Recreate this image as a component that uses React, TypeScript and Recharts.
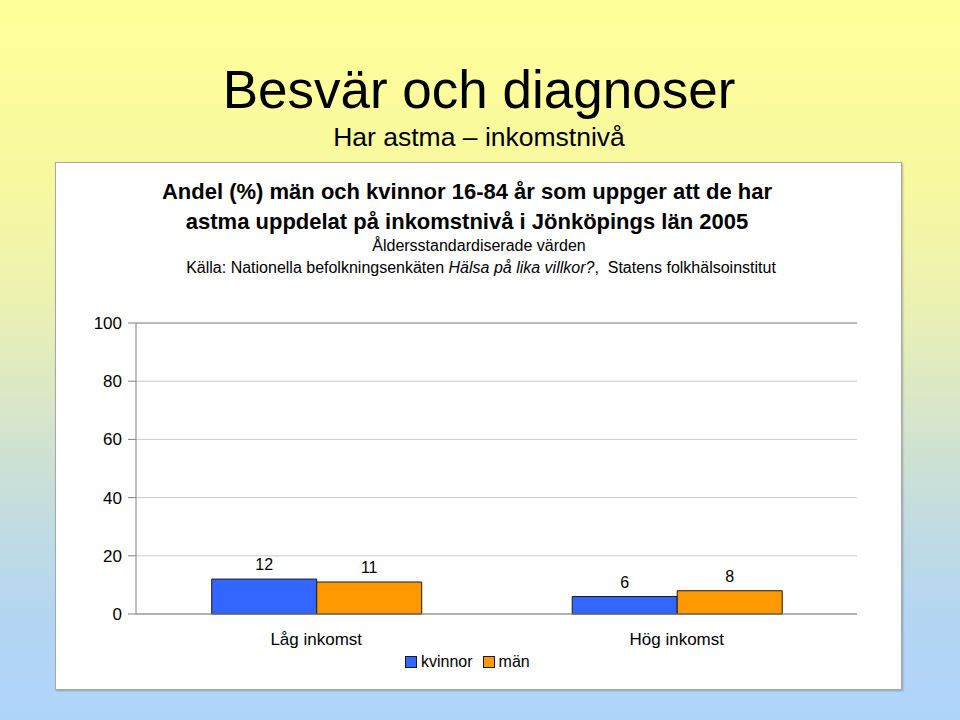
import React from "react";
import { BarChart, Bar, XAxis, YAxis, CartesianGrid, LabelList, ReferenceLine } from "recharts";

const categories = ["Låg inkomst", "Hög inkomst"];
const kvinnor = [12, 6];
const man = [11, 8];
const yTicks = [0, 20, 40, 60, 80, 100];

const data = categories.map((c, i) => ({ name: c, kvinnor: kvinnor[i], man: man[i] }));

const FONT = '"Liberation Sans", Arial, Helvetica, sans-serif';

export default function App() {
  return (
    <div
      style={{
        position: "absolute",
        left: 0,
        top: 0,
        width: 960,
        height: 720,
        overflow: "hidden",
        fontFamily: FONT,
        background:
          "linear-gradient(to bottom, #ffff99 0%, #f8f99f 25%, #eef2b0 40%, #dbe8c6 55%, #c4ddde 70%, #b5d6f2 85%, #afd4fb 100%)",
      }}
    >
      <div
        style={{
          position: "absolute",
          left: 0,
          top: 60,
          width: 958,
          textAlign: "center",
          fontSize: 53,
          lineHeight: "60px",
          color: "#000",
        }}
      >
        Besvär och diagnoser
      </div>
      <div
        style={{
          position: "absolute",
          left: 0,
          top: 121,
          width: 958,
          textAlign: "center",
          fontSize: 26.5,
          lineHeight: "32px",
          color: "#000",
        }}
      >
        Har astma – inkomstnivå
      </div>
      <div
        style={{
          position: "absolute",
          left: 55,
          top: 162,
          width: 845,
          height: 526,
          background: "#ffffff",
          border: "1px solid #a8a8a8",
          boxShadow: "1px 1px 2px rgba(0,0,0,0.25)",
        }}
      />
      <div
        style={{
          position: "absolute",
          left: 0,
          top: 177,
          width: 934,
          textAlign: "center",
          fontSize: 22,
          fontWeight: "bold",
          lineHeight: "30px",
          color: "#000",
        }}
      >
        Andel (%) män och kvinnor 16-84 år som uppger att de har
        <br />
        astma uppdelat på inkomstnivå i Jönköpings län 2005
      </div>
      <div
        style={{
          position: "absolute",
          left: 0,
          top: 236,
          width: 958,
          textAlign: "center",
          fontSize: 16,
          lineHeight: "20px",
          color: "#000",
        }}
      >
        Åldersstandardiserade värden
      </div>
      <div
        style={{
          position: "absolute",
          left: 0,
          top: 258,
          width: 962,
          textAlign: "center",
          fontSize: 16,
          lineHeight: "20px",
          color: "#000",
        }}
      >
        Källa: Nationella befolkningsenkäten <i>Hälsa på lika villkor?</i>,&nbsp; Statens folkhälsoinstitut
      </div>

      <div style={{ position: "absolute", left: 0, top: 0 }}>
        <BarChart
          width={960}
          height={720}
          data={data}
          margin={{ top: 323, right: 103, bottom: 66, left: 0 }}
          barCategoryGap="21%"
          barGap={0}
        >
          <CartesianGrid horizontal vertical={false} stroke="#cccccc" />
          <XAxis
            dataKey="name"
            height={40}
            tickSize={0}
            tickMargin={19}
            axisLine={{ stroke: "#808080" }}
            tick={{ fill: "#000", fontSize: 17, fontFamily: FONT }}
          />
          <YAxis
            width={136}
            domain={[0, 100]}
            ticks={yTicks}
            interval={0}
            tickSize={8}
            tickMargin={6}
            axisLine={{ stroke: "#808080" }}
            tickLine={{ stroke: "#808080" }}
            tick={{ fill: "#000", fontSize: 17, fontFamily: FONT }}
          />
          <YAxis
            yAxisId="right"
            orientation="right"
            width={0}
            domain={[0, 100]}
            tick={false}
            tickLine={false}
            axisLine={{ stroke: "#909090" }}
          />
          <ReferenceLine y={100} stroke="#909090" />
          <Bar dataKey="kvinnor" fill="#3366ff" stroke="#1a1a1a" strokeWidth={1} isAnimationActive={false}>
            <LabelList dataKey="kvinnor" position="top" offset={9} fill="#000" fontSize={16} fontFamily={FONT} />
          </Bar>
          <Bar dataKey="man" fill="#ff9900" stroke="#1a1a1a" strokeWidth={1} isAnimationActive={false}>
            <LabelList dataKey="man" position="top" offset={9} fill="#000" fontSize={16} fontFamily={FONT} />
          </Bar>
        </BarChart>
      </div>

      <div
        style={{
          position: "absolute",
          left: 405,
          top: 652,
          display: "flex",
          alignItems: "center",
          fontSize: 16,
          lineHeight: "20px",
          color: "#000",
        }}
      >
        <span style={{ width: 10, height: 10, background: "#3366ff", border: "1px solid #1a1a1a", display: "inline-block", marginRight: 4 }} />
        <span style={{ marginRight: 10 }}>kvinnor</span>
        <span style={{ width: 10, height: 10, background: "#ff9900", border: "1px solid #1a1a1a", display: "inline-block", marginRight: 4 }} />
        <span>män</span>
      </div>
    </div>
  );
}
